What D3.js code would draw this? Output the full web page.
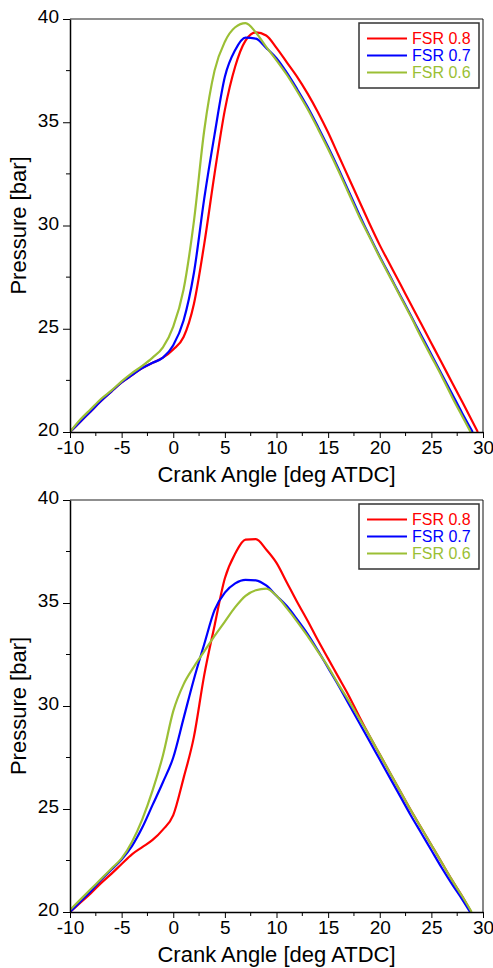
<!DOCTYPE html>
<html>
<head>
<meta charset="utf-8">
<script src="https://cdnjs.cloudflare.com/ajax/libs/d3/7.8.5/d3.min.js"></script>
<style>
    body { margin: 0; background: #fff; }
    text { font-family: Arial, "Liberation Sans", sans-serif; }
</style>
</head>
<body>
<div class="canvas"></div>
<script>

// crank angles shared by every curve [deg ATDC]
const angles = [-10, -9, -8, -7, -6, -5, -4, -3, -2, -1, 0, 1, 2, 3, 4, 5, 6, 7, 8, 9,
    10, 11, 12, 13, 14, 15, 16, 17, 18, 19, 20, 21, 22, 23, 24, 25, 26, 27, 28];

const seriesNames = ["FSR 0.8", "FSR 0.7", "FSR 0.6"];
const seriesColors = ["#ff0000", "#0000ff", "#9bbf35"];

// top panel pressures [bar]
const topFsr08 = [20.0, 20.5, 21.0, 21.5, 21.95, 22.4, 22.75, 23.1, 23.35, 23.6, 24.0, 24.6, 26.2, 29.1, 32.5, 35.6, 37.7, 38.95, 39.35, 39.2,
    38.6, 37.9, 37.2, 36.4, 35.5, 34.5, 33.4, 32.3, 31.2, 30.1, 29.05, 28.1, 27.15, 26.2, 25.25, 24.3, 23.35, 22.4, 21.45];
const topFsr07 = [20.0, 20.5, 21.0, 21.5, 21.95, 22.4, 22.75, 23.1, 23.35, 23.6, 24.2, 25.4, 27.7, 31.3, 34.4, 37.2, 38.5, 39.1, 39.05, 38.6,
    38.1, 37.4, 36.6, 35.75, 34.8, 33.8, 32.75, 31.65, 30.55, 29.5, 28.5, 27.55, 26.6, 25.65, 24.7, 23.75, 22.8, 21.85, 20.9];
const topFsr06 = [20.0, 20.6, 21.1, 21.6, 22.0, 22.45, 22.85, 23.2, 23.6, 24.1, 25.1, 26.9, 30.2, 34.6, 37.5, 38.9, 39.6, 39.8, 39.35, 38.65,
    38.0, 37.3, 36.5, 35.65, 34.7, 33.7, 32.65, 31.55, 30.45, 29.45, 28.45, 27.5, 26.55, 25.6, 24.6, 23.65, 22.7, 21.7, 20.75];
// angle where each top curve reaches 20 bar
const topEnds = [29.5, 29.0, 28.8];

// bottom panel pressures [bar]
const botFsr08 = [20.0, 20.45, 20.9, 21.4, 21.85, 22.33, 22.8, 23.15, 23.5, 24.0, 24.7, 26.5, 28.5, 31.5, 33.9, 36.2, 37.4, 38.08, 38.1, 37.6,
    36.95, 36.0, 35.05, 34.15, 33.2, 32.3, 31.4, 30.5, 29.5, 28.55, 27.65, 26.75, 25.85, 24.95, 24.1, 23.25, 22.4, 21.55, 20.75];
const botFsr07 = [20.0, 20.5, 21.0, 21.55, 22.05, 22.55, 23.2, 24.1, 25.2, 26.3, 27.5, 29.4, 31.3, 33.0, 34.65, 35.5, 35.95, 36.12, 36.1, 35.85,
    35.35, 34.85, 34.2, 33.5, 32.7, 31.85, 31.0, 30.1, 29.2, 28.3, 27.4, 26.5, 25.6, 24.7, 23.85, 23.0, 22.15, 21.35, 20.6];
const botFsr06 = [20.1, 20.6, 21.1, 21.6, 22.1, 22.6, 23.4, 24.5, 25.9, 27.6, 29.75, 31.05, 31.9, 32.65, 33.4, 34.1, 34.8, 35.35, 35.62, 35.7,
    35.35, 34.75, 34.1, 33.4, 32.65, 31.9, 31.05, 30.25, 29.4, 28.55, 27.65, 26.75, 25.85, 24.95, 24.1, 23.25, 22.4, 21.55, 20.75];
const botEnds = [28.85, 28.75, 28.9];

// axis ticks
const xTicks = [-10, -5, 0, 5, 10, 15, 20, 25, 30];
const xMinor = [-7.5, -2.5, 2.5, 7.5, 12.5, 17.5, 22.5, 27.5];
const yTicks = [20, 25, 30, 35, 40];
const yMinor = [22.5, 27.5, 32.5, 37.5];

const xTitle = "Crank Angle [deg ATDC]";
const yTitle = "Pressure [bar]";

const dims = {width: 493, height: 968};

const svg = d3.select(".canvas").append("svg")
    .attr("width", dims.width)
    .attr("height", dims.height);

const x = d3.scaleLinear().domain([-10, 30]).range([70, 483]);

// plain hyphen for negatives, like the original
const fmt = d => String(d);

const drawPanel = (top, bottom, series, ends, id) => {

    const y = d3.scaleLinear().domain([20, 40]).range([bottom, top]);
    const g = svg.append("g");

    // keep the curves inside the frame
    g.append("clipPath").attr("id", id)
      .append("rect")
        .attr("x", x(-10)).attr("y", top)
        .attr("width", x(30) - x(-10)).attr("height", bottom - top);

    // top and right frame lines
    g.append("line")
        .attr("x1", x(-10)).attr("x2", x(30))
        .attr("y1", top).attr("y2", top)
        .attr("stroke", "#6a6a6a").attr("stroke-width", 1.5);
    g.append("line")
        .attr("x1", x(30)).attr("x2", x(30))
        .attr("y1", top).attr("y2", bottom)
        .attr("stroke", "#111").attr("stroke-width", 1);

    // curves: red first, green on top
    const line = d3.line()
        .x(d => x(d[0]))
        .y(d => y(d[1]))
        .curve(d3.curveMonotoneX);

    series.forEach((vals, i) => {
        const pts = angles.map((a, j) => [a, vals[j]]);
        pts.push([ends[i], 20]);
        g.append("path")
            .datum(pts)
            .attr("clip-path", `url(#${id})`)
            .attr("fill", "none")
            .attr("stroke", seriesColors[i])
            .attr("stroke-width", 2.2)
            .attr("stroke-linejoin", "round")
            .attr("d", line);
    });

    // x axis
    const xAxis = g.append("g")
        .attr("transform", `translate(0,${bottom})`)
        .call(d3.axisBottom(x).tickValues(xTicks).tickFormat(fmt).tickSize(6).tickSizeOuter(0));
    xAxis.append("g").selectAll("line")
        .data(xMinor).enter().append("line")
        .attr("x1", d => x(d)).attr("x2", d => x(d))
        .attr("y1", 0).attr("y2", 4)
        .attr("stroke", "#000");
    xAxis.select(".domain").attr("stroke-width", 1.5);
    xAxis.selectAll(".tick text")
        .attr("y", 9).attr("dy", "0.71em")
        .attr("font-size", 19).attr("fill", "#000")
        .style("font-family", "Arial, 'Liberation Sans', sans-serif");

    // y axis
    const yAxis = g.append("g")
        .attr("transform", `translate(${x(-10)},0)`)
        .call(d3.axisLeft(y).tickValues(yTicks).tickFormat(fmt).tickSize(7).tickSizeOuter(0));
    yAxis.append("g").selectAll("line")
        .data(yMinor).enter().append("line")
        .attr("y1", d => y(d)).attr("y2", d => y(d))
        .attr("x1", 0).attr("x2", -4)
        .attr("stroke", "#000");
    yAxis.select(".domain").attr("stroke-width", 1.5);
    yAxis.selectAll(".tick text")
        .attr("x", -11).attr("dy", "0.2em")
        .attr("font-size", 19).attr("fill", "#000")
        .style("font-family", "Arial, 'Liberation Sans', sans-serif");

    // axis titles
    g.append("text")
        .attr("x", (x(-10) + x(30)) / 2)
        .attr("y", bottom + 50)
        .attr("text-anchor", "middle")
        .attr("font-size", 22)
        .text(xTitle);
    g.append("text")
        .attr("transform", `translate(26,${(top + bottom) / 2}) rotate(-90)`)
        .attr("text-anchor", "middle")
        .attr("font-size", 22)
        .text(yTitle);

    // legend
    const legend = g.append("g")
        .attr("transform", `translate(359,${top + 4})`);
    legend.append("rect")
        .attr("width", 120).attr("height", 65)
        .attr("fill", "#fff")
        .attr("stroke", "#333").attr("stroke-width", 1.5);
    seriesNames.forEach((name, i) => {
        const row = legend.append("g")
            .attr("transform", `translate(0,${15.5 + i * 17})`);
        row.append("line")
            .attr("x1", 8).attr("x2", 48)
            .attr("stroke", seriesColors[i]).attr("stroke-width", 2.2);
        row.append("text")
            .attr("x", 53).attr("dy", "0.36em")
            .attr("font-size", 16)
            .attr("fill", seriesColors[i])
            .text(name);
    });
};

drawPanel(19, 432, [topFsr08, topFsr07, topFsr06], topEnds, "clipTop");
drawPanel(500, 912, [botFsr08, botFsr07, botFsr06], botEnds, "clipBot");

</script>
</body>
</html>
